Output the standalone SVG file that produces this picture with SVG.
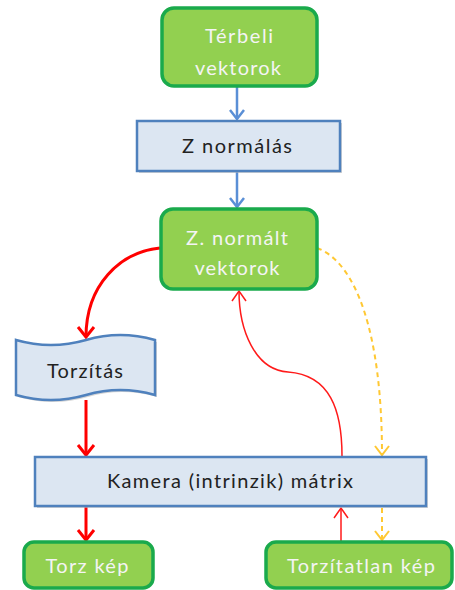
<svg xmlns="http://www.w3.org/2000/svg" width="455" height="590" viewBox="0 0 455 590">
<style>
.g{fill:#92d050;stroke:#1aaa4c;stroke-width:3.5}
.b{fill:#dce6f2;stroke:#4f81bd;stroke-width:2.5}
.sh{fill:#b9b9b9;opacity:.6}
.tw{font-family:Lato,"Open Sans",sans-serif;font-size:20px;fill:#f4f4f4;text-anchor:middle}
.tk{font-family:Lato,"Open Sans",sans-serif;font-size:20px;fill:#222;text-anchor:middle}
.blue{fill:none;stroke:#5a8fd6;stroke-width:2.5}
.red{fill:none;stroke:#ff0000;stroke-width:3}
.rthin{fill:none;stroke:#ff1a1a;stroke-width:1.5}
.yel{fill:none;stroke:#ffc833;stroke-width:2;stroke-dasharray:5 4}
</style>
<defs>
<marker id="mb" markerUnits="userSpaceOnUse" markerWidth="24" markerHeight="24" refX="0" refY="0" viewBox="-12 -12 24 24" orient="auto" overflow="visible"><path d="M-9,-7 L0,0 L-9,7" fill="none" stroke="#5a8fd6" stroke-width="2.5"/></marker>
<marker id="mr" markerUnits="userSpaceOnUse" markerWidth="24" markerHeight="24" refX="0" refY="0" viewBox="-12 -12 24 24" orient="auto" overflow="visible"><path d="M-10,-8 L0,0 L-10,8" fill="none" stroke="#ff0000" stroke-width="3"/></marker>
<marker id="mrt" markerUnits="userSpaceOnUse" markerWidth="24" markerHeight="24" refX="0" refY="0" viewBox="-12 -12 24 24" orient="auto" overflow="visible"><path d="M-10,-7 L0,0 L-10,7" fill="none" stroke="#ff1a1a" stroke-width="1.5"/></marker>
<marker id="my" markerUnits="userSpaceOnUse" markerWidth="24" markerHeight="24" refX="0" refY="0" viewBox="-12 -12 24 24" orient="auto" overflow="visible"><path d="M-9,-7 L0,0 L-9,7" fill="none" stroke="#ffc833" stroke-width="2"/></marker>
</defs>
<g id="connectors">
<line class="blue" x1="237" y1="87" x2="237" y2="119" marker-end="url(#mb)"/>
<line class="blue" x1="237" y1="172" x2="237" y2="207" marker-end="url(#mb)"/>
<path class="red" d="M160,248 C120,252 86,285 86,337" marker-end="url(#mr)"/>
<line class="red" x1="86" y1="400" x2="86" y2="455" marker-end="url(#mr)"/>
<line class="red" x1="86" y1="507" x2="86" y2="540" marker-end="url(#mr)"/>
<path class="rthin" d="M342,456 C342,410 330,375 288,372 C255,370 239,330 239,291" marker-end="url(#mrt)"/>
<line class="rthin" x1="341" y1="541" x2="341" y2="508" marker-end="url(#mrt)"/>
<path class="yel" d="M317,248 C355,262 382,330 382,455" marker-end="url(#my)"/>
<line class="yel" x1="382" y1="508" x2="382" y2="540" marker-end="url(#my)"/>
</g>
<g id="terbeli">
<rect class="g" x="162" y="8" width="155" height="78" rx="12"/>
<text class="tw" x="239" y="43" textLength="68" lengthAdjust="spacing">Térbeli</text>
<text class="tw" x="238" y="75" textLength="86" lengthAdjust="spacing">vektorok</text>
</g>
<g id="znormalas">
<rect class="sh" x="139" y="123" width="203" height="50"/>
<rect class="b" x="137" y="121" width="203" height="50"/>
<text class="tk" x="237" y="153" textLength="110" lengthAdjust="spacing">Z normálás</text>
</g>
<g id="znormalt">
<rect class="g" x="161" y="209" width="156" height="80" rx="12"/>
<text class="tw" x="237" y="245" textLength="102" lengthAdjust="spacing">Z. normált</text>
<text class="tw" x="237" y="275" textLength="85" lengthAdjust="spacing">vektorok</text>
</g>
<g id="torzitas">
<path class="sh" d="M18,342 Q53,352 88,342 Q122,332 157,342 L157,397 Q122,387 88,397 Q53,407 18,397 Z"/>
<path class="b" d="M16,340 Q51,350 86,340 Q120,330 155,340 L155,395 Q120,385 86,395 Q51,405 16,395 Z"/>
<text class="tk" x="85" y="378" textLength="76" lengthAdjust="spacing">Torzítás</text>
</g>
<g id="kamera">
<rect class="sh" x="37" y="459" width="391" height="49"/>
<rect class="b" x="35" y="457" width="391" height="49"/>
<text class="tk" x="230" y="488" textLength="246" lengthAdjust="spacing">Kamera (intrinzik) mátrix</text>
</g>
<g id="torzkep">
<rect class="g" x="24" y="542" width="129" height="46" rx="10"/>
<text class="tw" x="87" y="573" textLength="83" lengthAdjust="spacing">Torz kép</text>
</g>
<g id="torzitatlan">
<rect class="g" x="266" y="542" width="186" height="46" rx="10"/>
<text class="tw" x="361" y="573" textLength="148" lengthAdjust="spacing">Torzítatlan kép</text>
</g>
</svg>
